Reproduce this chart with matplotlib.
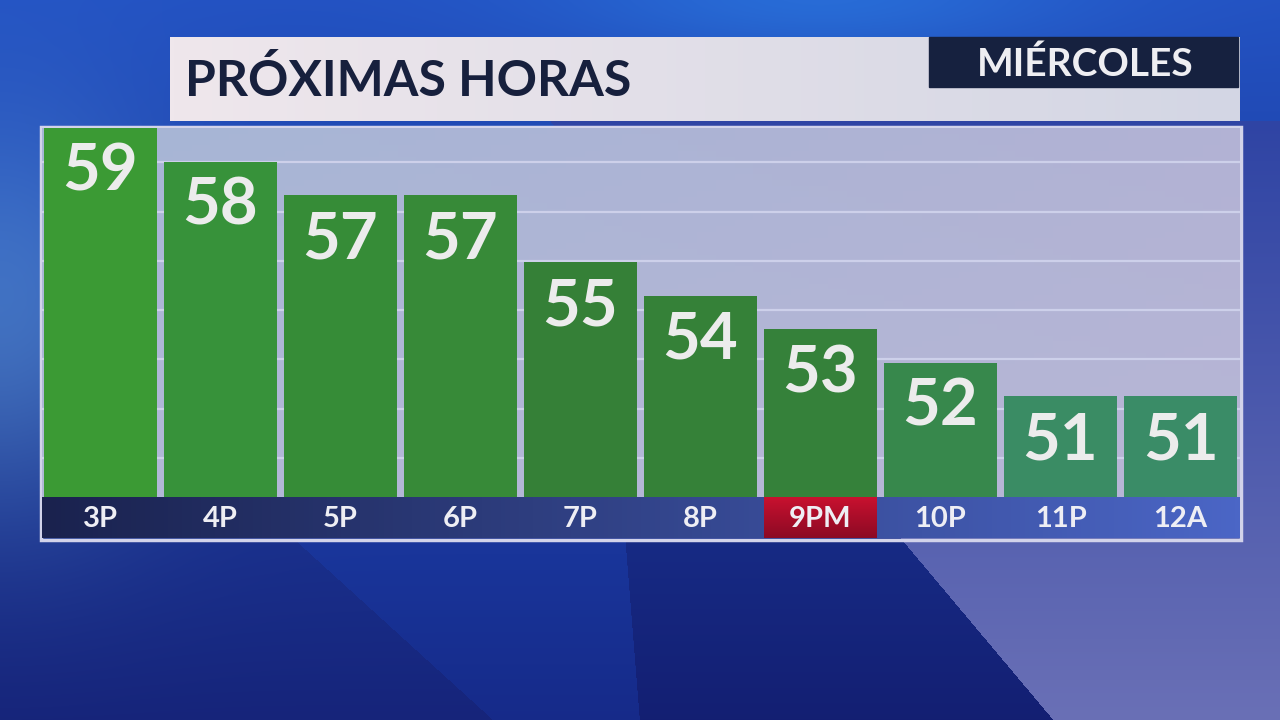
import matplotlib
matplotlib.use('Agg')
import matplotlib.pyplot as plt
from matplotlib.patches import Rectangle
import numpy as np

# --- data ---
hours = ['3P', '4P', '5P', '6P', '7P', '8P', '9PM', '10P', '11P', '12A']
temps = [59, 58, 57, 57, 55, 54, 53, 52, 51, 51]
now_idx = 6
title = 'PRÓXIMAS HORAS'
day = 'MIÉRCOLES'

bar_colors = ['#3b9a34', '#37923a', '#368c37', '#378a38', '#358037',
              '#358138', '#35813a', '#37884c', '#3a8c64', '#3a8c67']

W, H = 1280, 720
plt.rcParams['font.family'] = ['Lato', 'DejaVu Sans']

fig = plt.figure(figsize=(12.8, 7.2), dpi=100)


def hex2rgb(h):
    h = h.lstrip('#')
    return np.array([int(h[i:i + 2], 16) / 255 for i in (0, 2, 4)])


# --- background ---
yy, xx = np.mgrid[0:H, 0:W].astype(float)
t = (yy / H)[..., None]
img = (1 - t) * hex2rgb('#2352c2') + t * hex2rgb('#16247a')
glow = np.exp(-(xx / 160) ** 2) * np.exp(-((yy - 320) / 200) ** 2)
img += glow[..., None] * np.array([0.14, 0.20, 0.12])
topglow = np.exp(-((xx - 820) / 260) ** 2) * np.exp(-(yy / 60) ** 2)
img += topglow[..., None] * np.array([0.02, 0.10, 0.08])
band = (xx > 295 + (yy - 540) * 1.1) & (xx < 625 + (yy - 540) * 0.08) & (yy > 540)
img[band] += np.array([0.0, 0.025, 0.06])
right = (xx > 625 + (yy - 540) * 0.08) & (yy > 540)
img[right] -= np.array([0.01, 0.02, 0.03])
light = (xx > 902 + (yy - 540) * 0.84) & (yy > 120)
s = np.clip((yy - 120) / 600, 0, 1)[..., None]
lcol = (1 - s) * hex2rgb('#2f44a4') + s * hex2rgb('#6a70b6')
img = np.where(light[..., None], lcol, img)
img = np.clip(img, 0, 1)

bg = fig.add_axes([0, 0, 1, 1])
bg.imshow(img, extent=(0, W, H, 0), aspect='auto', zorder=0)
bg.set_xlim(0, W)
bg.set_ylim(H, 0)
bg.axis('off')

# title bar
g = np.linspace(0, 1, 256)[None, :, None]
tb = (1 - g) * hex2rgb('#efe7ec') + g * hex2rgb('#d3d6e4')
bg.imshow(tb, extent=(170, 1240, 121, 37), aspect='auto', zorder=1)
bg.add_patch(Rectangle((929, 37), 309, 50, color='#16213f', zorder=2))
bg.text(185, 80, title, fontsize=36, fontweight='bold', color='#17203d',
        va='center', ha='left', zorder=3)
bg.text(1085, 64, day, fontsize=28, fontweight='bold', color='#eeeef2',
        va='center', ha='center', zorder=3)

# panel border
bg.add_patch(Rectangle((40.5, 127), 1200.5, 413, fill=False,
                       edgecolor='#d2d3ea', lw=2.5, zorder=1))

# --- bar chart ---
x = np.arange(len(hours))
ax = fig.add_axes([42 / W, 1 - 497 / H, 1198 / W, 369 / H])
pg = np.linspace(0, 1, 64)
pbg = (1 - pg[None, :, None]) * hex2rgb('#a6b6d6') + pg[None, :, None] * hex2rgb('#b2b2d4')
pbg = pbg * np.ones((64, 1, 1))
vv = np.linspace(0, 1, 64)[:, None, None]
pbg = pbg * (1 - 0.5 * vv) + 0.5 * vv * hex2rgb('#bdbbd8')
ax.imshow(pbg, extent=(0, 1, 0, 1), transform=ax.transAxes, aspect='auto', zorder=0)
ax.hlines(np.arange(0.106, 0.95, 0.1335), 0, 1, transform=ax.transAxes,
          color='#cdd0ea', lw=1.6, zorder=1)
ax.bar(x, temps, width=0.94, color=bar_colors, zorder=2)
for i, v in enumerate(temps):
    ax.annotate(str(v), (i, v), xytext=(0, -32), textcoords='offset points',
                ha='center', va='center', fontsize=47, fontweight='bold',
                color='#ececec', zorder=3)
ax.set_xlim(-0.485, 9.495)
ax.set_ylim(48, 59)
ax.axis('off')

# --- hour strip ---
ax2 = fig.add_axes([42 / W, 1 - 538 / H, 1198 / W, 41 / H])
sg = np.linspace(0, 1, 256)[None, :, None]
strip = (1 - sg) * hex2rgb('#1a224e') + sg * hex2rgb('#4b66c6')
ax2.imshow(strip, extent=(-0.485, 9.495, 0, 1), aspect='auto', zorder=0)
rg = np.linspace(0, 1, 64)[:, None, None]
red = (1 - rg) * hex2rgb('#c8112f') + rg * hex2rgb('#8c0a24')
ax2.imshow(red, extent=(now_idx - 0.47, now_idx + 0.47, 0, 1), aspect='auto', zorder=1)
for i, h in enumerate(hours):
    ax2.text(i, 0.47, h, ha='center', va='center', fontsize=21,
             fontweight='bold', color='#eeeef4', zorder=2)
ax2.set_xlim(-0.485, 9.495)
ax2.set_ylim(0, 1)
ax2.axis('off')

fig.savefig('out.png', dpi=100)
